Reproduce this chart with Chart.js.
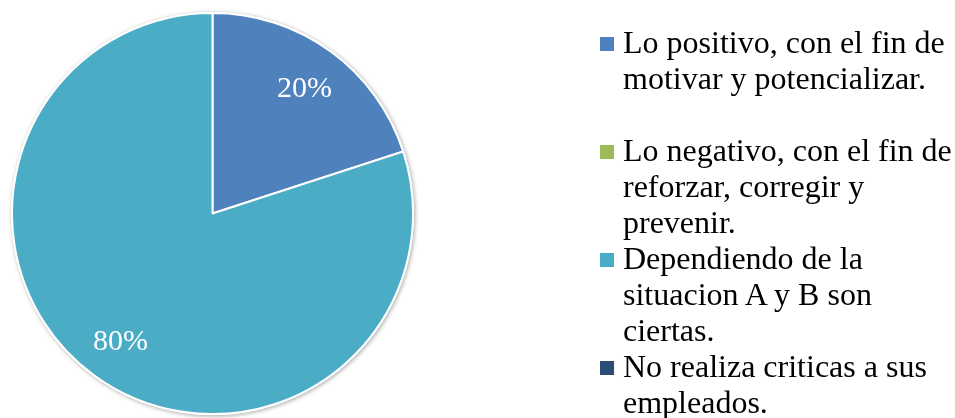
<!DOCTYPE html>
<html>
<head>
<meta charset="utf-8">
<script src="https://cdn.jsdelivr.net/npm/chart.js@4.4.0/dist/chart.umd.min.js"></script>
<style>
  html, body { margin: 0; padding: 0; background: #fff; }
  #wrap { position: relative; width: 955px; height: 418px; overflow: hidden; }
  #chart { position: absolute; left: 0; top: 0; }
  #legend {
    position: absolute; left: 600px; top: 24px; width: 355px;
    font-family: "Liberation Serif", "Times New Roman", serif;
    font-size: 32px; line-height: 36px; color: #000; white-space: nowrap;
  }
  .item { position: relative; padding-left: 23px; }
  .item:first-child { margin-bottom: 36px; }
  .sw { position: absolute; left: 0; top: 13px; width: 14px; height: 14px; }
</style>
</head>
<body>
<div id="wrap">
  <canvas id="chart" width="955" height="418"></canvas>
  <div id="legend"></div>
</div>
<script>
const labels = [
  'Lo positivo, con el fin de motivar y potencializar.',
  'Lo negativo, con el fin de reforzar, corregir y prevenir.',
  'Dependiendo de la situacion A y B son ciertas.',
  'No realiza criticas a sus empleados.'
];
// legend lines as they wrap in the picture
const legendLines = [
  ['Lo positivo, con el fin de', 'motivar y potencializar.'],
  ['Lo negativo, con el fin de', 'reforzar, corregir y', 'prevenir.'],
  ['Dependiendo de la', 'situacion A y B son', 'ciertas.'],
  ['No realiza criticas a sus', 'empleados.']
];
const values = [20, 0, 80, 0];
const colors = ['#4F81BD', '#9BBB59', '#4BACC6', '#2C4D75'];

const legendEl = document.getElementById('legend');
legendEl.innerHTML = legendLines.map((lines, i) => `
  <div class="item"><span class="sw" style="background:${colors[i]}"></span>${lines.join('<br>')}</div>
`).join('');

// soft shadow round the outer edge of the pie
const pieShadow = {
  id: 'pieShadow',
  beforeDatasetsDraw(chart) {
    const arc = chart.getDatasetMeta(0).data[0];
    const p = arc.getProps(['x', 'y', 'outerRadius'], true);
    const ctx = chart.ctx;
    ctx.save();
    ctx.shadowColor = 'rgba(0,0,0,0.35)';
    ctx.shadowBlur = 4;
    ctx.shadowOffsetX = 1;
    ctx.shadowOffsetY = 1;
    ctx.fillStyle = '#fff';
    ctx.beginPath();
    ctx.arc(p.x, p.y, p.outerRadius + 1, 0, Math.PI * 2);
    ctx.fill();
    ctx.restore();
  }
};

const pctLabels = {
  id: 'pctLabels',
  afterDatasetsDraw(chart) {
    const ctx = chart.ctx;
    const meta = chart.getDatasetMeta(0);
    const total = values.reduce((a, b) => a + b, 0);
    ctx.save();
    ctx.fillStyle = '#fff';
    ctx.font = '30px "Liberation Serif", "Times New Roman", serif';
    ctx.textAlign = 'center';
    ctx.textBaseline = 'middle';
    meta.data.forEach((arc, i) => {
      if (!values[i]) return;
      const p = arc.getProps(['x', 'y', 'startAngle', 'endAngle', 'outerRadius'], true);
      const mid = (p.startAngle + p.endAngle) / 2;
      const r = p.outerRadius * 0.78;
      const txt = Math.round(values[i] / total * 100) + '%';
      ctx.fillText(txt, p.x + Math.cos(mid) * r, p.y + Math.sin(mid) * r + 2);
    });
    ctx.restore();
  }
};

new Chart(document.getElementById('chart'), {
  type: 'pie',
  data: {
    labels: labels,
    datasets: [{
      data: values,
      backgroundColor: colors,
      borderColor: '#fff',
      borderWidth: 2
    }]
  },
  options: {
    responsive: false,
    animation: false,
    layout: { padding: { left: 11, right: 955 - 414, top: 12, bottom: 418 - 415 } },
    plugins: {
      legend: { display: false },
      tooltip: { enabled: false }
    }
  },
  plugins: [pieShadow, pctLabels]
});
</script>
</body>
</html>
